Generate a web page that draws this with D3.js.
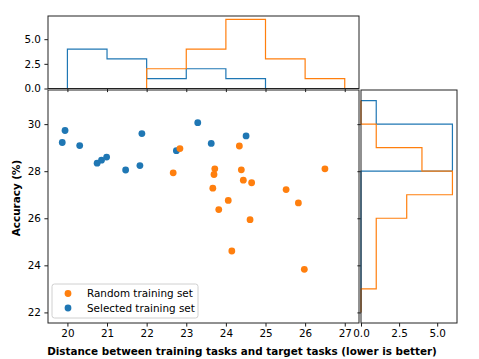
<!DOCTYPE html>
<html>
<head>
<meta charset="utf-8">
<script src="https://cdn.jsdelivr.net/npm/d3@7"></script>
<style>
  body { margin: 0; background: #fff; }
  svg { display: block; font-family: "DejaVu Sans", sans-serif; }
</style>
</head>
<body>
<div id="chart"></div>
<script>
// scatter points: distance vs accuracy
const randomDist = [22.67, 22.84, 24.34, 23.72, 23.70, 24.39, 26.50, 24.44, 24.65, 23.67, 25.52, 24.06, 25.83, 23.82, 24.61, 24.15, 25.98];
const randomAcc  = [27.93, 28.96, 29.07, 28.10, 27.86, 28.06, 28.10, 27.62, 27.51, 27.28, 27.22, 26.76, 26.65, 26.37, 25.94, 24.61, 23.83];
const selectedDist = [19.87, 19.94, 20.31, 20.75, 20.86, 20.99, 21.47, 21.83, 21.88, 22.75, 23.29, 23.63, 24.51];
const selectedAcc  = [29.22, 29.73, 29.09, 28.34, 28.47, 28.60, 28.05, 28.24, 29.60, 28.87, 30.06, 29.18, 29.50];

// histogram bins (edges) and counts
const distEdges = [20, 21, 22, 23, 24, 25, 26, 27];
const distRandomCounts   = [0, 0, 2, 4, 7, 3, 1];
const distSelectedCounts = [4, 3, 1, 2, 1, 0, 0];
const accEdges = [22, 23, 24, 25, 26, 27, 28, 29, 30, 31];
const accRandomCounts   = [0, 1, 1, 1, 3, 6, 4, 1, 0];
const accSelectedCounts = [0, 0, 0, 0, 0, 0, 6, 6, 1];

const distTicks = [20, 21, 22, 23, 24, 25, 26, 27];
const accTicks = [22, 24, 26, 28, 30];
const countTicks = [0, 2.5, 5];

const blue = "#1f77b4", orange = "#ff7f0e";
const W = 479, H = 359;
const fs = 10.4;

const svg = d3.select("#chart").append("svg")
    .attr("width", W).attr("height", H);
svg.append("rect").attr("width", W).attr("height", H).attr("fill", "#fff");

// layout boxes
const mainBox = {x0: 48, x1: 359, y0: 90, y1: 323};
const topBox = {x0: 48, x1: 359, y0: 16, y1: 88.5};
const sideBox = {x0: 361, x1: 457, y0: 90, y1: 323};

const x = d3.scaleLinear().domain([19.51, 27.36]).range([mainBox.x0, mainBox.x1]);
const y = d3.scaleLinear().domain([21.55, 31.45]).range([mainBox.y1, mainBox.y0]);
const yTop = d3.scaleLinear().domain([0, 7.35]).range([topBox.y1, topBox.y0]);
const xSide = d3.scaleLinear().domain([0, 6.3]).range([sideBox.x0, sideBox.x1]);

const fmt1 = d3.format(".1f");

function styleAxis(g) {
    g.select(".domain").remove();
    g.selectAll(".tick line").attr("stroke", "#000").attr("stroke-width", 0.9);
    g.selectAll(".tick text").attr("font-size", fs).attr("fill", "#000")
        .attr("font-family", "DejaVu Sans, sans-serif");
}

// ---- top histogram ----
svg.append("g")
    .attr("transform", `translate(0,${topBox.y1})`)
    .call(d3.axisBottom(x).tickValues(distTicks).tickSize(3.6).tickFormat(""))
    .call(styleAxis);
svg.append("g")
    .attr("transform", `translate(${topBox.x0},0)`)
    .call(d3.axisLeft(yTop).tickValues(countTicks).tickSize(3.6).tickPadding(3.5).tickFormat(fmt1))
    .call(styleAxis);

function stepTop(counts, color) {
    const pts = [[distEdges[0], 0]];
    counts.forEach((c, i) => {
        pts.push([distEdges[i], c]);
        pts.push([distEdges[i + 1], c]);
    });
    pts.push([distEdges[distEdges.length - 1], 0]);
    svg.append("path")
        .attr("d", d3.line().x(d => x(d[0])).y(d => yTop(d[1]))(pts))
        .attr("fill", "none").attr("stroke", color).attr("stroke-width", 1.2);
}
stepTop(distSelectedCounts, blue);
stepTop(distRandomCounts, orange);

// ---- side histogram ----
svg.append("g")
    .attr("transform", `translate(0,${sideBox.y1})`)
    .call(d3.axisBottom(xSide).tickValues(countTicks).tickSize(3.6).tickPadding(3.5).tickFormat(fmt1))
    .call(styleAxis);
svg.append("g")
    .attr("transform", `translate(${sideBox.x0},0)`)
    .call(d3.axisLeft(y).tickValues(accTicks).tickSize(3.6).tickFormat(""))
    .call(styleAxis);

function stepSide(counts, color) {
    const pts = [[0, accEdges[0]]];
    counts.forEach((c, i) => {
        pts.push([c, accEdges[i]]);
        pts.push([c, accEdges[i + 1]]);
    });
    pts.push([0, accEdges[accEdges.length - 1]]);
    svg.append("path")
        .attr("d", d3.line().x(d => xSide(d[0])).y(d => y(d[1]))(pts))
        .attr("fill", "none").attr("stroke", color).attr("stroke-width", 1.2);
}
stepSide(accSelectedCounts, blue);
stepSide(accRandomCounts, orange);

// ---- main scatter ----
svg.append("g")
    .attr("transform", `translate(0,${mainBox.y1})`)
    .call(d3.axisBottom(x).tickValues(distTicks).tickSize(3.6).tickPadding(3.5).tickFormat(d3.format("d")))
    .call(styleAxis);
svg.append("g")
    .attr("transform", `translate(${mainBox.x0},0)`)
    .call(d3.axisLeft(y).tickValues(accTicks).tickSize(3.6).tickPadding(3.5).tickFormat(d3.format("d")))
    .call(styleAxis);

svg.append("g").selectAll("circle")
    .data(d3.zip(selectedDist, selectedAcc))
    .join("circle")
    .attr("cx", d => x(d[0])).attr("cy", d => y(d[1]))
    .attr("r", 3.4).attr("fill", blue);

svg.append("g").selectAll("circle")
    .data(d3.zip(randomDist, randomAcc))
    .join("circle")
    .attr("cx", d => x(d[0])).attr("cy", d => y(d[1]))
    .attr("r", 3.4).attr("fill", orange);

// frames
[mainBox, topBox, sideBox].forEach(b => {
    svg.append("rect")
        .attr("x", b.x0).attr("y", b.y0)
        .attr("width", b.x1 - b.x0).attr("height", b.y1 - b.y0)
        .attr("fill", "none").attr("stroke", "#222").attr("stroke-width", 1);
});

// legend
const leg = svg.append("g").attr("transform", "translate(52,284)");
leg.append("rect")
    .attr("width", 146).attr("height", 34).attr("rx", 2.5)
    .attr("fill", "#fff").attr("fill-opacity", 0.8)
    .attr("stroke", "#d0d0d0").attr("stroke-width", 1);
const legendItems = [["Random training set", orange], ["Selected training set", blue]];
legendItems.forEach(([label, color], i) => {
    leg.append("circle").attr("cx", 16).attr("cy", 9.5 + i * 14.5).attr("r", 3.4).attr("fill", color);
    leg.append("text").attr("x", 35).attr("y", 9.5 + i * 14.5 + 3.8)
        .attr("font-size", fs).text(label);
});

// axis labels
svg.append("text")
    .attr("x", 242).attr("y", 354.5)
    .attr("text-anchor", "middle").attr("font-weight", "bold").attr("font-size", fs)
    .text("Distance between training tasks and target tasks (lower is better)");
svg.append("text")
    .attr("transform", "translate(19.5,198) rotate(-90)")
    .attr("text-anchor", "middle").attr("font-weight", "bold").attr("font-size", fs)
    .text("Accuracy (%)");
</script>
</body>
</html>
